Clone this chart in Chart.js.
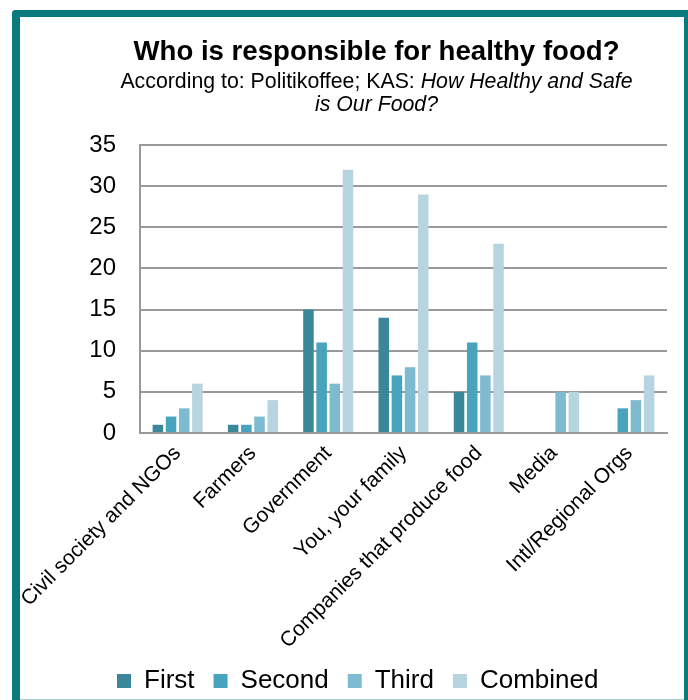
<!DOCTYPE html>
<html><head><meta charset="utf-8">
<script src="https://cdn.jsdelivr.net/npm/chart.js@4"></script>
<style>
html,body{margin:0;padding:0;width:688px;height:700px;overflow:hidden;background:#fff;}
#frame{position:absolute;left:12px;top:10px;width:664px;height:700px;border:solid #0b7a7c;border-width:7px 7px 0 8px;border-top-left-radius:4px;box-sizing:content-box;}
#base{position:absolute;left:20px;top:699px;width:664px;height:1px;background:#a9cfcf;}
#wrap{position:absolute;left:0;top:0;width:688px;height:704px;}
</style></head><body>
<div id="frame"></div><div id="base"></div>
<div id="wrap"><canvas id="c" width="688" height="704"></canvas></div>
<script>
const categories = ['Civil society and NGOs','Farmers','Government','You, your family','Companies that produce food','Media','Intl/Regional Orgs'];
const seriesNames = ['First','Second','Third','Combined'];
const firstValues = [1, 1, 15, 14, 5, null, null];
const secondValues = [2, 1, 11, 7, 11, null, 3];
const thirdValues = [3, 2, 6, 8, 7, 5, 4];
const combinedValues = [6, 4, 32, 29, 23, 5, 7];
const yTicks = [0, 5, 10, 15, 20, 25, 30, 35];
const titleText = 'Who is responsible for healthy food?';
const subtitlePlain = 'According to: Politikoffee; KAS: ';
const subtitleItalic1 = 'How Healthy and Safe';
const subtitleItalic2 = 'is Our Food?';
const seriesColors = ['#3a8799', '#48a4bc', '#7fbbd0', '#b6d5e0'];

const FONT = '"Liberation Sans", Arial, sans-serif';
Chart.defaults.font.family = FONT;
Chart.defaults.color = '#000';

const subtitlePlugin = {
  id: 'mixedSubtitle',
  afterDraw(chart) {
    const ctx = chart.ctx;
    const tb = chart.titleBlock;
    const cx = (tb.left + tb.right) / 2;
    ctx.save();
    ctx.fillStyle = '#000';
    ctx.textBaseline = 'alphabetic';
    ctx.textAlign = 'left';
    const plainFont = '21.3px ' + FONT;
    const italFont = 'italic 21.3px ' + FONT;
    ctx.font = plainFont;
    const w1 = ctx.measureText(subtitlePlain).width;
    ctx.font = italFont;
    const w2 = ctx.measureText(subtitleItalic1).width;
    const x0 = cx - (w1 + w2) / 2;
    const y1 = tb.top + 68;
    ctx.font = plainFont;
    ctx.fillText(subtitlePlain, x0, y1);
    ctx.font = italFont;
    ctx.fillText(subtitleItalic1, x0 + w1, y1);
    ctx.textAlign = 'center';
    ctx.fillText(subtitleItalic2, cx, y1 + 23);
    ctx.restore();
  }
};

const legendShift = {
  id: 'legendShift',
  afterLayout(chart) {
    if (chart.legend) {
      chart.legend.left += 12;
      chart.legend.right += 12;
    }
  }
};

const seriesData = [firstValues, secondValues, thirdValues, combinedValues];

new Chart(document.getElementById('c'), {
  type: 'bar',
  data: {
    labels: categories,
    datasets: seriesNames.map((name, i) => ({
      label: name,
      data: seriesData[i],
      backgroundColor: seriesColors[i],
      borderWidth: 0,
      categoryPercentage: 0.7,
      barPercentage: 0.8
    }))
  },
  options: {
    responsive: false,
    devicePixelRatio: 1,
    animation: false,
    layout: { padding: { left: 86, right: 21, top: 20, bottom: 0 } },
    plugins: {
      title: {
        display: true,
        text: titleText,
        font: { size: 27.6, weight: 'bold' },
        color: '#000',
        padding: { top: 16, bottom: 76 }
      },
      legend: {
        position: 'bottom',
        align: 'start',
        labels: {
          boxWidth: 14,
          boxHeight: 14,
          padding: 19,
          font: { size: 26 },
          color: '#000'
        }
      },
      tooltip: { enabled: false }
    },
    scales: {
      x: {
        grid: { display: false, drawTicks: false },
        border: { display: true, color: '#999', width: 2 },
        ticks: { minRotation: 45, maxRotation: 45, autoSkip: false, font: { size: 21 }, color: '#000', padding: 8 },
        afterFit(s) { s.height = 216; }
      },
      y: {
        min: 0,
        max: 35,
        afterBuildTicks(s) { s.ticks = yTicks.map(v => ({ value: v })); },
        ticks: { padding: 24, font: { size: 24 }, color: '#000' },
        grid: { color: '#999', lineWidth: 2, drawTicks: false },
        border: { display: true, color: '#999', width: 2 },
        afterFit(s) { s.width = 54; }
      }
    }
  },
  plugins: [subtitlePlugin, legendShift]
});
</script>
</body></html>
